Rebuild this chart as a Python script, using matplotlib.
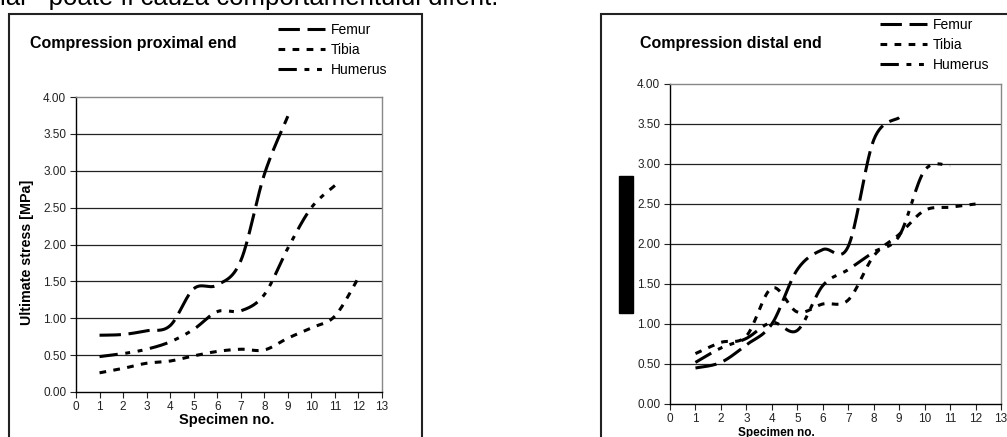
import numpy as np
import matplotlib.pyplot as plt
from matplotlib.patches import Rectangle

plt.rcParams['font.family'] = ['Liberation Sans', 'DejaVu Sans']

# ----
# DATA
# ----
specimens = list(range(14))

prox_femur = [0.77, 0.78, 0.83, 0.90, 1.40, 1.45, 1.78, 2.95, 3.74]
prox_tibia = [0.26, 0.32, 0.39, 0.42, 0.49, 0.55, 0.58, 0.57, 0.73, 0.87, 1.03, 1.55]
prox_humerus = [0.48, 0.52, 0.58, 0.68, 0.85, 1.09, 1.10, 1.32, 1.95, 2.50, 2.80]

dist_femur = [0.45, 0.52, 0.74, 1.00, 1.68, 1.93, 1.97, 3.30, 3.58]
dist_tibia = [0.63, 0.77, 0.85, 1.45, 1.15, 1.25, 1.30, 1.85, 2.12, 2.42, 2.46, 2.50]
dist_humerus = [0.52, 0.70, 0.82, 1.02, 0.92, 1.48, 1.68, 1.90, 2.10, 2.92, 2.98]

bone_names = ['Femur', 'Tibia', 'Humerus']
y_ticks = [0.0, 0.5, 1.0, 1.5, 2.0, 2.5, 3.0, 3.5, 4.0]

# ------
# LAYOUT
# ------
W, H = 1007, 437

def fx(px):
    return px / W

def fy(py):
    return 1 - py / H

lw = 2.2
styles = {
    'Femur': (0, (7, 2.5)),
    'Tibia': (0, (2.2, 2.4)),
    'Humerus': (0, (6, 2.5, 1.6, 2.5, 1.6, 2.5)),
}


def smooth(y, n=30):
    # cubic bezier through every point, tangents from the neighbours
    x = np.arange(1, len(y) + 1)
    pts = np.column_stack([x, y]).astype(float)
    ext = np.vstack([pts[0], pts, pts[-1]])
    t = np.linspace(0, 1, n)[:, None]
    out = []
    for i in range(len(pts) - 1):
        p0, p3 = pts[i], pts[i + 1]
        c1 = p0 + (ext[i + 2] - ext[i]) / 6
        c2 = p3 - (ext[i + 3] - ext[i + 1]) / 6
        seg = (1 - t)**3*p0 + 3*(1 - t)**2*t*c1 + 3*(1 - t)*t**2*c2 + t**3*p3
        out.append(seg if i == 0 else seg[1:])
    return np.vstack(out)


def draw_panel(rect, series, title, title_xy, legend_xy, xlabel_xy, xlabel_size, ylabel_xy=None):
    ax = fig.add_axes(rect)
    for name, vals in zip(bone_names, series):
        c = smooth(vals)
        ax.plot(c[:, 0], c[:, 1], color='black', lw=lw, linestyle=styles[name],
                label=name, solid_capstyle='butt', dash_capstyle='butt')
    ax.set_xlim(0, 13)
    ax.set_ylim(0, 4)
    ax.set_xticks(specimens)
    ax.set_yticks(y_ticks)
    ax.set_yticklabels(['{:.2f}'.format(v) for v in y_ticks])
    ax.tick_params(labelsize=8.5, length=4, width=0.8, colors='#222', pad=3)
    ax.tick_params(axis='x', pad=2.5)
    for v in y_ticks[1:-1]:
        ax.axhline(v, color='#222', lw=0.9, zorder=0)
    ax.spines['left'].set_color('black')
    ax.spines['bottom'].set_color('black')
    ax.spines['top'].set_color('#888')
    ax.spines['right'].set_color('#888')
    for s in ax.spines.values():
        s.set_linewidth(1.0)

    fig.text(fx(title_xy[0]), fy(title_xy[1]), title, fontsize=11.5, fontweight='bold',
             ha='left', va='baseline')
    ax.legend(loc='upper left', bbox_to_anchor=(fx(legend_xy[0]), fy(legend_xy[1])),
              bbox_transform=fig.transFigure, frameon=False, fontsize=10,
              handlelength=3.4, handletextpad=0.4, labelspacing=0.42, borderpad=0,
              borderaxespad=0)
    fig.text(fx(xlabel_xy[0]), fy(xlabel_xy[1]), 'Specimen no.', fontsize=xlabel_size,
             fontweight='bold', ha='center', va='baseline')
    if ylabel_xy is not None:
        fig.text(fx(ylabel_xy[0]), fy(ylabel_xy[1]), 'Ultimate stress [MPa]', fontsize=10.3,
                 fontweight='bold', rotation=90, ha='center', va='center')
    return ax


fig = plt.figure(figsize=(W / 100, H / 100), dpi=100)

# line of body text above the charts, running off the top edge
fig.text(fx(0), fy(5.5), 'ial - poate fi cauza comportamentului diferit.', fontsize=18.5,
         ha='left', va='baseline')

# chart frames
fig.patches.append(Rectangle((fx(9), fy(445)), fx(422) - fx(9), fy(14) - fy(445),
                             transform=fig.transFigure, fill=False, edgecolor='#222', lw=1.5))
fig.patches.append(Rectangle((fx(601), fy(445)), fx(1012) - fx(601), fy(13.5) - fy(445),
                             transform=fig.transFigure, fill=False, edgecolor='#222', lw=1.5))

# proximal end
draw_panel([fx(76), fy(392), (382 - 76) / W, (392 - 97) / H],
           [prox_femur, prox_tibia, prox_humerus],
           'Compression proximal end', (30, 48), (278, 23), (227, 424), 10.5,
           ylabel_xy=(27, 252))

# distal end
draw_panel([fx(670), fy(404), (1001 - 670) / W, (404 - 84) / H],
           [dist_femur, dist_tibia, dist_humerus],
           'Compression distal end', (640, 48), (880, 18), (776, 436), 8.5)

# blacked-out axis title of the distal chart
fig.patches.append(Rectangle((fx(619), fy(313)), fx(633) - fx(619), fy(176) - fy(313),
                             transform=fig.transFigure, color='black'))

fig.savefig('out.png', dpi=100)
